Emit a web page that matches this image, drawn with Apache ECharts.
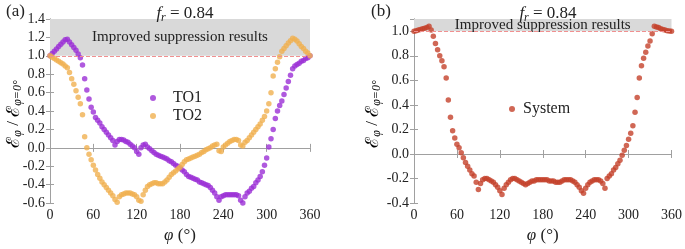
<!DOCTYPE html>
<html>
<head>
<meta charset="utf-8">
<script src="https://cdn.jsdelivr.net/npm/echarts@6/dist/echarts.min.js"></script>
<style>
  html, body { margin: 0; padding: 0; background: #fff; }
  #chart { width: 685px; height: 249px; }
</style>
</head>
<body>
<div id="chart"></div>
<script>
// phi in degrees, sampled every 3 degrees
const phi = [0, 3, 6, 9, 12, 15, 18, 21, 24, 27, 30, 33, 36, 39, 42, 45, 48, 51, 54, 57,
  60, 63, 66, 69, 72, 75, 78, 81, 84, 87, 90, 93, 96, 99, 102, 105, 108, 111, 114, 117,
  120, 123, 126, 129, 132, 135, 138, 141, 144, 147, 150, 153, 156, 159, 162, 165, 168, 171, 174, 177,
  180, 183, 186, 189, 192, 195, 198, 201, 204, 207, 210, 213, 216, 219, 222, 225, 228, 231, 234, 237,
  240, 243, 246, 249, 252, 255, 258, 261, 264, 267, 270, 273, 276, 279, 282, 285, 288, 291, 294, 297,
  300, 303, 306, 309, 312, 315, 318, 321, 324, 327, 330, 333, 336, 339, 342, 345, 348, 351, 354, 357, 360]

const to1 = [1.00, 1.025, 1.05, 1.075, 1.10, 1.125, 1.15, 1.175, 1.18, 1.15, 1.12, 1.09, 1.06, 1.02, 0.98, 0.90, 0.75, 0.63, 0.53, 0.44,
  0.39, 0.33, 0.30, 0.27, 0.23, 0.20, 0.17, 0.14, 0.11, 0.08, 0.03, 0.07, 0.09, 0.09, 0.085, 0.07, 0.06, 0.04, 0.02, 0.00,
  -0.04, -0.07, 0.00, 0.03, 0.04, 0.01, -0.01, -0.03, -0.05, -0.07, -0.08, -0.09, -0.10, -0.11, -0.12, -0.14, -0.15, -0.17, -0.19, -0.20,
  -0.22, -0.24, -0.26, -0.29, -0.31, -0.32, -0.33, -0.34, -0.35, -0.37, -0.38, -0.39, -0.40, -0.41, -0.43, -0.46, -0.49, -0.53, -0.57, -0.53,
  -0.52, -0.51, -0.51, -0.51, -0.51, -0.51, -0.51, -0.52, -0.57, -0.60, -0.53, -0.49, -0.47, -0.44, -0.42, -0.38, -0.35, -0.31, -0.26, -0.19,
  -0.11, 0.01, 0.10, 0.20, 0.32, 0.40, 0.46, 0.51, 0.58, 0.65, 0.72, 0.79, 0.86, 0.89, 0.905, 0.92, 0.94, 0.95, 0.97, 0.98, 1.00]

const to2 = [1.00, 0.985, 0.97, 0.955, 0.94, 0.925, 0.91, 0.89, 0.87, 0.82, 0.75, 0.69, 0.62, 0.55, 0.48, 0.36, 0.12, 0.00, -0.07, -0.13,
  -0.19, -0.24, -0.29, -0.33, -0.37, -0.40, -0.43, -0.46, -0.49, -0.52, -0.56, -0.59, -0.53, -0.51, -0.50, -0.49, -0.49, -0.49, -0.50, -0.51,
  -0.53, -0.57, -0.58, -0.51, -0.46, -0.42, -0.40, -0.39, -0.38, -0.38, -0.39, -0.39, -0.39, -0.37, -0.35, -0.32, -0.29, -0.27, -0.25, -0.23,
  -0.21, -0.18, -0.15, -0.13, -0.12, -0.11, -0.10, -0.09, -0.08, -0.07, -0.05, -0.04, -0.02, -0.01, 0.00, 0.02, 0.03, 0.04, -0.03, -0.04,
  0.01, 0.03, 0.05, 0.07, 0.08, 0.09, 0.09, 0.08, 0.03, 0.02, 0.06, 0.08, 0.11, 0.14, 0.17, 0.20, 0.23, 0.26, 0.30, 0.34,
  0.40, 0.48, 0.60, 0.78, 0.86, 0.93, 0.99, 1.05, 1.08, 1.11, 1.14, 1.165, 1.19, 1.18, 1.16, 1.13, 1.10, 1.08, 1.05, 1.03, 1.00]

const system = [1.00, 1.005, 1.01, 1.015, 1.02, 1.025, 1.03, 1.04, 1.01, 0.96, 0.90, 0.85, 0.80, 0.76, 0.71, 0.62, 0.44, 0.30, 0.19, 0.13,
  0.08, 0.05, 0.01, -0.03, -0.07, -0.10, -0.13, -0.16, -0.18, -0.23, -0.29, -0.24, -0.21, -0.20, -0.20, -0.21, -0.22, -0.23, -0.25, -0.27,
  -0.30, -0.33, -0.28, -0.25, -0.23, -0.21, -0.20, -0.20, -0.21, -0.22, -0.23, -0.24, -0.25, -0.24, -0.23, -0.22, -0.22, -0.21, -0.21, -0.21,
  -0.21, -0.21, -0.21, -0.22, -0.22, -0.22, -0.23, -0.23, -0.23, -0.22, -0.21, -0.21, -0.21, -0.21, -0.22, -0.23, -0.25, -0.27, -0.30, -0.32,
  -0.28, -0.25, -0.23, -0.22, -0.21, -0.21, -0.21, -0.22, -0.24, -0.28, -0.20, -0.18, -0.16, -0.13, -0.11, -0.08, -0.05, -0.01, 0.03, 0.07,
  0.12, 0.17, 0.23, 0.34, 0.46, 0.62, 0.72, 0.78, 0.83, 0.88, 0.92, 0.98, 1.04, 1.035, 1.03, 1.02, 1.015, 1.01, 1.005, 1.003, 1.00]

const serif = "'Liberation Serif', 'DejaVu Serif', serif"
const axisColor = '#a0a0a0'
const textColor = '#222'

const pairs = ys => phi.map((p, i) => [p, ys[i]])

const richMath = {
  i: { fontFamily: serif, fontStyle: 'italic', fontWeight: 'normal', fontSize: 17, color: textColor },
  n: { fontFamily: serif, fontWeight: 'normal', fontSize: 17, color: textColor },
  s: { fontFamily: serif, fontStyle: 'italic', fontWeight: 'normal', fontSize: 12, color: textColor, padding: [8, 0, 0, 0] },
  e: { fontFamily: serif, fontWeight: 'normal', fontSize: 18, color: textColor },
}

function xAxes(grid, bottom) {
  return {
    gridIndex: grid, type: 'value', min: 0, max: 360, interval: 60,
    position: bottom ? 'bottom' : 'top',
    axisLine: { lineStyle: { color: axisColor } },
    axisTick: { inside: true, length: 4, lineStyle: { color: axisColor } },
    axisLabel: { show: bottom, color: textColor, fontFamily: serif, fontSize: 14, margin: 5 },
    splitLine: { show: false },
    name: bottom ? '{i|φ}{n| (°)}' : '',
    nameLocation: 'middle', nameGap: 20,
    nameTextStyle: { rich: richMath },
  }
}

function yAxes(grid, left, min, max) {
  return {
    gridIndex: grid, type: 'value', min, max, interval: 0.2,
    position: left ? 'left' : 'right',
    axisLine: { lineStyle: { color: axisColor } },
    axisTick: { inside: true, length: 4, lineStyle: { color: axisColor } },
    axisLabel: {
      show: left, color: textColor, fontFamily: serif, fontSize: 14, margin: 5,
      showMaxLabel: max === 1.4, formatter: v => v.toFixed(1),
    },
    splitLine: { show: false },
  }
}

function band(xi, yi, top) {
  return {
    type: 'line', xAxisIndex: xi, yAxisIndex: yi, data: [], z: 1, silent: true,
    markArea: {
      silent: true,
      itemStyle: { color: '#d9d9d9' },
      label: { show: true, position: 'inside', color: textColor, fontFamily: serif, fontSize: 15 },
      data: [[{ name: 'Improved suppression results', xAxis: 0, yAxis: 1.0 }, { xAxis: 360, yAxis: top }]],
    },
    markLine: {
      silent: true, symbol: 'none',
      lineStyle: { color: '#f09090', type: 'dashed', width: 1 },
      label: { show: false },
      data: [{ yAxis: 1.0 }],
    },
  }
}

function dots(name, xi, yi, ys, color) {
  return {
    name, type: 'scatter', xAxisIndex: xi, yAxisIndex: yi, z: 3,
    symbol: 'circle', symbolSize: 5.5,
    itemStyle: { color },
    data: pairs(ys),
  }
}

function yName(x) {
  return {
    type: 'text', x, y: 114, rotation: Math.PI / 2,
    style: { text: '{e|ℰ}{s|φ}{n| / }{e|ℰ}{s|φ=0°}', rich: richMath, align: 'center', verticalAlign: 'middle' },
  }
}

const chart = echarts.init(document.getElementById('chart'))
chart.setOption({
  animation: false,
  title: [
    { text: '{i|f}{s|r}{n| = 0.84}', left: 180, top: -1, textAlign: 'center', textStyle: { fontWeight: 'normal', rich: richMath } },
    { text: '{i|f}{s|r}{n| = 0.84}', left: 543, top: -1, textAlign: 'center', textStyle: { fontWeight: 'normal', rich: richMath } },
    { text: '(a)', left: 1, top: -2, textStyle: { fontFamily: serif, fontSize: 17, fontWeight: 'normal', color: textColor } },
    { text: '(b)', left: 366, top: -2, textStyle: { fontFamily: serif, fontSize: 17, fontWeight: 'normal', color: textColor } },
  ],
  graphic: [yName(14), yName(373)],
  grid: [
    { left: 50, top: 19, width: 260, height: 190 },
    { left: 414, top: 19, width: 259, height: 190 },
  ],
  xAxis: [xAxes(0, true), xAxes(0, false), xAxes(1, true), xAxes(1, false)],
  yAxis: [yAxes(0, true, -0.6, 1.4), yAxes(0, false, -0.6, 1.4), yAxes(1, true, -0.4, 1.1), yAxes(1, false, -0.4, 1.1)],
  legend: [
    {
      data: ['TO1', 'TO2'], orient: 'vertical', left: 145, top: 85, itemGap: 2,
      icon: 'circle', itemWidth: 6, itemHeight: 6,
      textStyle: { fontFamily: serif, fontSize: 16, color: textColor, padding: [0, 0, 0, 12] },
    },
    {
      data: ['System'], orient: 'vertical', left: 504, top: 96,
      icon: 'circle', itemWidth: 6, itemHeight: 6,
      textStyle: { fontFamily: serif, fontSize: 16, color: textColor, padding: [0, 0, 0, 3] },
    },
  ],
  series: [
    band(0, 0, 1.4),
    band(2, 2, 1.1),
    dots('TO1', 0, 0, to1, '#9b30d6'),
    dots('TO2', 0, 0, to2, '#f0b050'),
    dots('System', 2, 2, system, '#c4412a'),
  ],
})
</script>
</body>
</html>
